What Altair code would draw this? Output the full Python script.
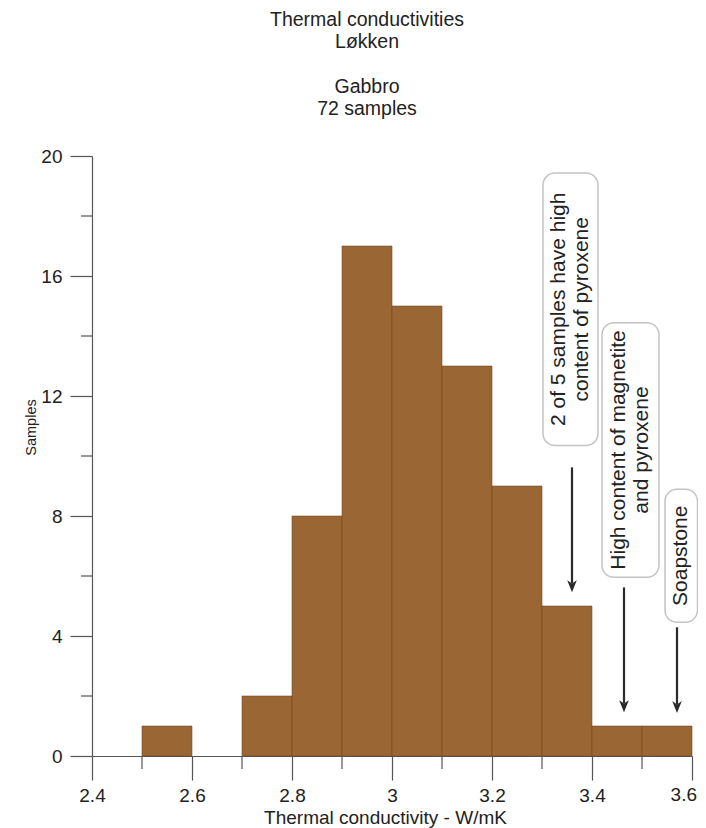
import altair as alt
import pandas as pd

# ---- data ----
bin_start = [2.5, 2.6, 2.7, 2.8, 2.9, 3.0, 3.1, 3.2, 3.3, 3.4, 3.5]
bin_end = [2.6, 2.7, 2.8, 2.9, 3.0, 3.1, 3.2, 3.3, 3.4, 3.5, 3.6]
counts = [1, 0, 2, 8, 17, 15, 13, 9, 5, 1, 1]

x_ticks = [2.4, 2.6, 2.8, 3.0, 3.2, 3.4, 3.6]
x_edge_label = [3.6]
x_minor = [2.5, 2.7, 2.9, 3.1, 3.3, 3.5]
y_ticks = [0, 4, 8, 12, 16, 20]
y_minor = [2, 6, 10, 14, 18]

title_top = ["Thermal conductivities", "Løkken"]
title_bottom = ["Gabbro", "72 samples"]

note_text = ["2 of 5 samples have high\ncontent of pyroxene",
             "High content of magnetite\nand pyroxene",
             "Soapstone"]
note_lines = [2, 2, 1]
note_x1 = [3.302, 3.420, 3.546]
note_x2 = [3.412, 3.534, 3.611]
note_y1 = [10.35, 5.96, 4.46]
note_y2 = [19.43, 14.44, 8.89]
arrow_x = [3.360, 3.464, 3.570]
arrow_top = [9.62, 5.62, 4.29]
arrow_tip = [5.46, 1.46, 1.43]

FONT = "Liberation Sans"
BAR = "#9a6633"
AX = "#555555"

bars_df = pd.DataFrame({"start": bin_start, "end": bin_end, "count": counts})
bars_df = bars_df[bars_df["count"] > 0]
notes_df = pd.DataFrame({
    "text": note_text, "lines": note_lines,
    "x1": note_x1, "x2": note_x2, "y1": note_y1, "y2": note_y2,
})
notes_df["cx"] = (notes_df["x1"] + notes_df["x2"]) / 2
notes_df["cy"] = (notes_df["y1"] + notes_df["y2"]) / 2
arrows_df = pd.DataFrame({"x": arrow_x, "top": arrow_top, "tip": arrow_tip})
arrows_df["head"] = arrows_df["tip"] + 0.2
arrows_df["lineend"] = arrows_df["tip"] + 0.3
xminor_df = pd.DataFrame({"v": x_minor})
yminor_df = pd.DataFrame({"v": y_minor})
edge_df = pd.DataFrame({"v": x_edge_label, "label": [f"{v:g}" for v in x_edge_label]})

xs = alt.Scale(domain=[2.4, 3.6], nice=False, zero=False)
ys = alt.Scale(domain=[0, 20], nice=False)

xa = alt.Axis(
    values=x_ticks, format="~g", title="Thermal conductivity - W/mK",
    labelExpr="datum.value >= 3.59 ? '' : datum.label",
    tickSize=24, tickColor=AX, domainColor=AX, tickWidth=1.2, domainWidth=1.2,
    labelFontSize=19, labelFont=FONT, labelColor="#222", labelPadding=6,
    titleFontSize=19, titleFont=FONT, titleColor="#222", titleFontWeight="normal",
    titleX=293, titleY=61, titleBaseline="middle", titleAlign="center",
    grid=False, labelFlush=False, labelOverlap=False)
ya = alt.Axis(
    values=y_ticks, title="Samples",
    tickSize=22, tickColor=AX, domainColor=AX, tickWidth=1.2, domainWidth=1.2,
    labelFontSize=19, labelFont=FONT, labelColor="#222", labelPadding=8,
    titleFontSize=14.5, titleFont=FONT, titleColor="#222", titleFontWeight="normal",
    titleX=-61, titleY=271, titleAngle=270, titleAlign="center", titleBaseline="middle",
    grid=False, labelFlush=False)

bars = alt.Chart(bars_df).mark_rect(
    color=BAR, stroke="#6e4722", strokeWidth=0.8, strokeOpacity=0.7
).encode(
    x=alt.X("start:Q", scale=xs, axis=xa),
    x2="end:Q",
    y=alt.Y("count:Q", scale=ys, axis=ya),
    y2=alt.datum(0),
)

xminor = alt.Chart(xminor_df).mark_rule(color=AX, strokeWidth=1.2).encode(
    x=alt.X("v:Q", scale=xs, axis=xa),
    y=alt.value(600), y2=alt.value(613),
)
yminor = alt.Chart(yminor_df).mark_rule(color=AX, strokeWidth=1.2).encode(
    y=alt.Y("v:Q", scale=ys, axis=ya),
    x=alt.value(-11), x2=alt.value(0),
)
edge_label = alt.Chart(edge_df).mark_text(
    align="right", baseline="top", fontSize=19, font=FONT, color="#222", dx=5
).encode(
    x=alt.X("v:Q", scale=xs, axis=xa),
    y=alt.value(630),
    text="label:N",
)

boxes = alt.Chart(notes_df).mark_rect(
    fill="white", stroke="#c4c4c4", strokeWidth=1.5, cornerRadius=12
).encode(
    x=alt.X("x1:Q", scale=xs, axis=xa), x2="x2:Q",
    y=alt.Y("y1:Q", scale=ys, axis=ya), y2="y2:Q",
)


def note_text_layer(n_lines, dy):
    return alt.Chart(notes_df).transform_filter(
        alt.datum.lines == n_lines
    ).mark_text(
        angle=270, align="center", baseline="middle", lineBreak="\n",
        fontSize=21, lineHeight=23, font=FONT, color="#222", dy=dy
    ).encode(
        x=alt.X("cx:Q", scale=xs, axis=xa),
        y=alt.Y("cy:Q", scale=ys, axis=ya),
        text="text:N",
    )


texts2 = note_text_layer(2, -11.5)
texts1 = note_text_layer(1, 0)

arrow_lines = alt.Chart(arrows_df).mark_rule(color="#2a2a2a", strokeWidth=2.2).encode(
    x=alt.X("x:Q", scale=xs, axis=xa),
    y=alt.Y("top:Q", scale=ys, axis=ya), y2="lineend:Q",
)
arrow_heads = alt.Chart(arrows_df).mark_point(
    shape="M0,1L-0.8,-1L0,-0.45L0.8,-1Z", filled=True, color="#2a2a2a",
    size=144, opacity=1
).encode(
    x=alt.X("x:Q", scale=xs, axis=xa),
    y=alt.Y("head:Q", scale=ys, axis=ya),
)


def title_block(lines, ypix):
    return alt.Chart(pd.DataFrame({"t": ["\n".join(lines)]})).mark_text(
        align="center", baseline="top", lineBreak="\n", fontSize=19.5, lineHeight=22,
        font=FONT, color="#222"
    ).encode(
        x=alt.value(275), y=alt.value(ypix), text="t:N",
    )


title1 = title_block(title_top, -145)
title2 = title_block(title_bottom, -78)

chart = alt.layer(
    bars, xminor, yminor, edge_label, boxes, arrow_lines, arrow_heads,
    texts2, texts1, title1, title2
).properties(
    width=600, height=600,
    autosize=alt.AutoSizeParams(type="none"),
    padding={"left": 84, "top": 148, "right": 6, "bottom": 72},
).configure_view(stroke=None)

chart.save("out.html", embed_options={"renderer": "svg", "actions": False})
